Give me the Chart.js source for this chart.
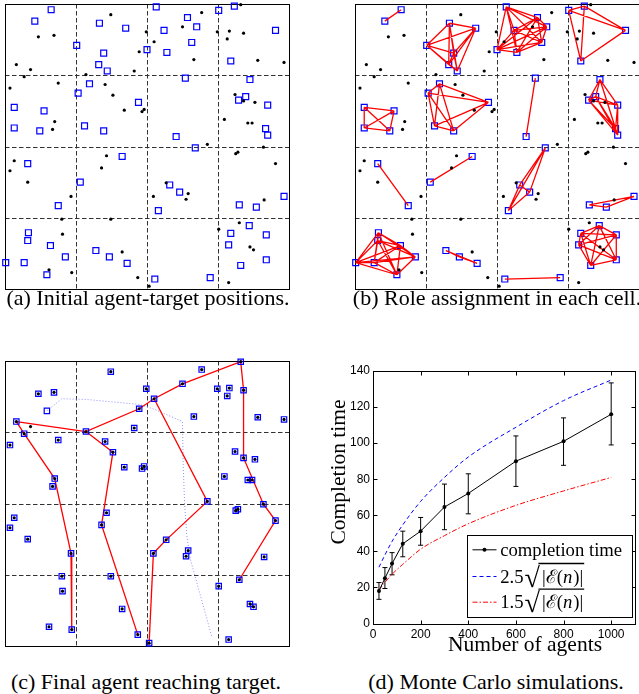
<!DOCTYPE html>
<html>
<head>
<meta charset="utf-8">
<script src="https://cdn.jsdelivr.net/npm/chart.js@4.4.1/dist/chart.umd.min.js"></script>
<style>
  html, body { margin: 0; padding: 0; background: #fff; overflow: hidden; }
  body { width: 639px; height: 694px; position: relative; }
  canvas { position: absolute; }
  .serif { position: absolute; font-family: "Liberation Serif", "Times New Roman", serif; white-space: nowrap; text-align: center; color: #000; }
  .cap { font-size: 22px; line-height: 26px; height: 26px; width: 320px; }
</style>
</head>
<body>
<canvas id="panelA" width="300" height="301" style="left:-3px; top:-4px;"></canvas>
<canvas id="panelB" width="300" height="301" style="left:347px; top:-4px;"></canvas>
<canvas id="panelC" width="300" height="301" style="left:-3px; top:353px;"></canvas>
<canvas id="panelD" width="319" height="300" style="left:320px; top:340px;"></canvas>

<div class="serif cap" style="left:-12px; top:285px;">(a) Initial agent-target positions.</div>
<div class="serif cap" style="left:337px; top:285px;">(b) Role assignment in each cell.</div>
<div class="serif cap" style="left:-14px; top:669px;">(c) Final agent reaching target.</div>
<div class="serif cap" style="left:336px; top:669px;">(d) Monte Carlo simulations.</div>

<div class="serif" style="font-size:21.5px; line-height:26px; height:26px; width:220px; left:228px; top:459px; transform:rotate(-90deg);">Completion time</div>
<div class="serif" style="font-size:21.5px; line-height:26px; height:26px; width:220px; left:415px; top:631px;">Number of agents</div>

<script>
// workspace of 4 x 4 cells, positions in cell units (y grows downward)
const cellLines = [1, 2, 3];

// agents (blue squares)
const agents = [
  [0.65, 0.08], [0.42, 0.24], [1.33, 0.27], [1.70, 0.34], [1.01, 0.58], [1.39, 0.69],
  [1.32, 0.85], [1.44, 0.94], [1.19, 1.12], [1.03, 1.25], [0.13, 1.45], [0.55, 1.50],
  [0.13, 1.74], [0.49, 1.78], [1.12, 1.71], [1.39, 1.78], [1.88, 1.38], [2.13, 0.04],
  [2.57, 0.19], [2.70, 0.32], [2.24, 0.37], [3.01, 0.09], [3.23, 0.03], [2.63, 0.54],
  [2.00, 0.64], [2.28, 0.68], [3.81, 0.37], [3.18, 0.80], [2.54, 1.04], [3.45, 1.06],
  [3.39, 1.30], [3.29, 1.35], [3.70, 1.42], [3.67, 1.75], [3.70, 1.84], [2.41, 1.86],
  [2.68, 2.02], [0.32, 2.24], [1.65, 2.14], [1.06, 2.50], [0.75, 2.83], [2.32, 2.54],
  [2.46, 2.64], [2.16, 2.90], [3.30, 2.82], [3.54, 2.85], [3.93, 2.70], [0.33, 3.21],
  [0.32, 3.32], [0.64, 3.39], [0.85, 3.55], [0.01, 3.63], [0.27, 3.63], [0.59, 3.80],
  [1.28, 3.46], [1.47, 3.55], [1.72, 3.64], [2.11, 3.86], [2.89, 3.84], [3.18, 3.22],
  [3.44, 3.11], [3.68, 3.24], [3.15, 3.38], [3.68, 3.59], [3.32, 3.67]
];

// targets (black dots)
const targets = [
  [1.49, 0.15], [0.47, 0.46], [0.69, 0.44], [0.16, 0.85], [0.36, 0.92], [0.27, 1.02],
  [0.07, 1.18], [0.75, 1.11], [1.14, 0.99], [1.41, 1.13], [1.52, 1.28], [1.82, 0.94],
  [1.89, 0.67], [1.99, 0.39], [2.10, 0.53], [2.50, 0.32], [2.77, 0.12], [2.66, 0.78],
  [2.99, 0.39], [3.16, 0.38], [3.36, 0.41], [3.13, 0.49], [3.32, 0.01], [3.56, 0.79],
  [3.93, 0.82], [1.68, 1.49], [1.93, 1.51], [1.96, 1.48], [0.70, 1.65], [0.67, 1.76],
  [3.24, 1.27], [3.36, 1.36], [3.52, 1.38], [3.09, 1.62], [3.42, 1.67], [3.48, 1.67],
  [2.85, 1.97], [3.64, 2.01], [0.13, 2.20], [0.07, 2.34], [0.32, 2.50], [0.93, 2.70],
  [1.43, 2.13], [1.36, 2.30], [2.27, 2.51], [2.09, 2.70], [2.58, 2.66], [2.55, 2.74],
  [3.25, 2.10], [3.28, 2.08], [3.81, 2.24], [3.65, 2.75], [0.80, 3.02], [1.49, 3.02],
  [0.81, 3.23], [1.65, 3.48], [0.62, 3.73], [0.94, 3.77], [1.87, 3.84], [2.03, 3.96],
  [3.01, 3.16], [3.30, 3.07], [3.45, 3.41], [3.50, 3.45], [3.15, 3.91]
];

// panel (c): target still free, last agent and its track, red routes
const pendingTarget = [0.36, 0.92];
const lastAgent = [0.59, 0.70];
const lastAgentTrack = [
  [0.59, 0.70], [0.80, 0.53], [1.15, 0.54], [1.90, 0.61], [2.11, 0.68], [2.50, 0.85],
  [2.51, 1.47], [2.53, 2.01], [2.56, 2.45], [2.61, 2.78], [2.91, 3.86]
];
const routeA = [[0.16, 0.85], [1.14, 0.99], [1.89, 0.67], [2.10, 0.53], [2.50, 0.32], [3.32, 0.01],
                [3.36, 0.41], [3.36, 1.36], [3.64, 2.01], [3.81, 2.24], [3.30, 3.07]];
const routeB = [[1.14, 0.99], [1.52, 1.28], [1.36, 2.30], [1.87, 3.84]];
const routeC = [[0.16, 0.85], [0.27, 1.02], [0.70, 1.65], [0.93, 2.70], [0.94, 3.77]];
const routeD = [[2.10, 0.53], [2.85, 1.97], [2.27, 2.51], [2.09, 2.70], [2.03, 3.96]];

// panel (d): Monte Carlo
const agentCounts = [25, 50, 80, 125, 200, 300, 400, 600, 800, 1000];
const completionTime = [18, 25.1, 33.2, 44.2, 51.2, 64.6, 72.1, 90, 101, 116];
const errLow = [13.4, 19.4, 27, 37, 43.4, 52, 60.8, 76, 87.7, 99];
const errHigh = [22.7, 31, 39.3, 51.2, 58.8, 77.3, 83, 104, 114, 133.4];
const bound25 = [31.2, 38, 45.5, 54.7, 67.7, 81, 92.3, 108.8, 123.6, 135];
const bound15 = [18.6, 22.8, 27.3, 32.8, 41.2, 48.7, 55.3, 65.5, 73.5, 81];
const xTicks = [0, 200, 400, 600, 800, 1000];
const yTicks = [0, 20, 40, 60, 80, 100, 120, 140];

function pts(list) {
  return list.map(p => ({ x: p[0], y: p[1] }));
}

// complete graph between agents sharing a cell
function cellEdges(list) {
  const cells = {};
  list.forEach(p => {
    const key = Math.min(3, Math.floor(p[0])) + '_' + Math.min(3, Math.floor(p[1]));
    (cells[key] = cells[key] || []).push(p);
  });
  const seg = [];
  Object.values(cells).forEach(g => {
    for (let i = 0; i < g.length; i++)
      for (let j = i + 1; j < g.length; j++)
        seg.push({ x: g[i][0], y: g[i][1] }, { x: g[j][0], y: g[j][1] }, { x: g[j][0], y: null });
  });
  return seg;
}

const cellGrid = {
  id: 'cellGrid',
  beforeDatasetsDraw(chart) {
    const { ctx, chartArea: a, scales: { x, y } } = chart;
    ctx.save();
    ctx.lineWidth = 1;
    ctx.strokeStyle = '#333';
    ctx.setLineDash([4.5, 2.5]);
    cellLines.forEach(v => {
      const px = Math.round(x.getPixelForValue(v)) + 0.5;
      ctx.beginPath(); ctx.moveTo(px, a.top); ctx.lineTo(px, a.bottom); ctx.stroke();
      const py = Math.round(y.getPixelForValue(v)) + 0.5;
      ctx.beginPath(); ctx.moveTo(a.left, py); ctx.lineTo(a.right, py); ctx.stroke();
    });
    ctx.setLineDash([]);
    ctx.strokeStyle = '#000';
    ctx.strokeRect(Math.round(a.left) + 0.5, Math.round(a.top) + 0.5, Math.round(a.width), Math.round(a.height));
    ctx.restore();
  }
};

const dotSet = (list) => ({ data: pts(list), pointStyle: 'circle', pointRadius: 1.6, pointBackgroundColor: '#000', pointBorderWidth: 0, clip: false });
const squareSet = (list, r) => ({ data: pts(list), pointStyle: 'rect', pointRadius: r, pointBorderColor: '#0000ff', pointBackgroundColor: 'rgba(0,0,0,0)', pointBorderWidth: 1.2, clip: false });
const lineSet = (data, color, width, dash) => ({ data, showLine: true, borderColor: color, borderWidth: width, borderDash: dash || [], pointRadius: 0, clip: false });

function cellPanel(id, datasets) {
  new Chart(document.getElementById(id), {
    type: 'scatter',
    data: { datasets },
    options: {
      responsive: false,
      animation: false,
      events: [],
      layout: { padding: 8 },
      scales: {
        x: { display: false, min: 0, max: 4 },
        y: { display: false, min: 0, max: 4, reverse: true }
      },
      plugins: { legend: { display: false }, tooltip: { enabled: false } }
    },
    plugins: [cellGrid]
  });
}

cellPanel('panelA', [dotSet(targets), squareSet(agents, 4.2)]);

cellPanel('panelB', [dotSet(targets), lineSet(cellEdges(agents), '#ff0000', 1.3), squareSet(agents, 4.2)]);

const reached = targets.filter(p => !(p[0] === pendingTarget[0] && p[1] === pendingTarget[1]));
cellPanel('panelC', [
  dotSet(targets),
  squareSet(reached, 3.8),
  squareSet([lastAgent], 3.8),
  lineSet(pts(routeA), '#ff0000', 1.3),
  lineSet(pts(routeB), '#ff0000', 1.3),
  lineSet(pts(routeC), '#ff0000', 1.3),
  lineSet(pts(routeD), '#ff0000', 1.3),
  lineSet(pts(lastAgentTrack), '#8f8fff', 1, [1, 2])
]);

// error bars, inward ticks and box
const mcFrame = {
  id: 'mcFrame',
  beforeDatasetsDraw(chart) {
    const { ctx, scales: { x, y } } = chart;
    ctx.save();
    ctx.strokeStyle = '#000';
    ctx.lineWidth = 1;
    agentCounts.forEach((n, i) => {
      const px = x.getPixelForValue(n), lo = y.getPixelForValue(errLow[i]), hi = y.getPixelForValue(errHigh[i]);
      ctx.beginPath();
      ctx.moveTo(px, lo); ctx.lineTo(px, hi);
      ctx.moveTo(px - 2.5, lo); ctx.lineTo(px + 2.5, lo);
      ctx.moveTo(px - 2.5, hi); ctx.lineTo(px + 2.5, hi);
      ctx.stroke();
    });
    ctx.restore();
  },
  afterDraw(chart) {
    const { ctx, chartArea: a, scales: { x, y } } = chart;
    ctx.save();
    ctx.strokeStyle = '#000';
    ctx.lineWidth = 1;
    const L = Math.round(a.left) + 0.5, R = Math.round(a.right) + 0.5;
    const T = Math.round(a.top) + 0.5, B = Math.round(a.bottom) + 0.5;
    ctx.strokeRect(L, T, R - L, B - T);
    ctx.beginPath();
    xTicks.forEach(v => {
      const px = Math.round(x.getPixelForValue(v)) + 0.5;
      ctx.moveTo(px, B); ctx.lineTo(px, B - 4);
      ctx.moveTo(px, T); ctx.lineTo(px, T + 4);
    });
    yTicks.forEach(v => {
      const py = Math.round(y.getPixelForValue(v)) + 0.5;
      ctx.moveTo(L, py); ctx.lineTo(L + 4, py);
      ctx.moveTo(R, py); ctx.lineTo(R - 4, py);
    });
    ctx.stroke();

    // legend
    const w = 165, h = 82;
    const left = Math.round(a.right - 3 - w) + 0.5, top = Math.round(a.bottom - 6.5 - h) + 0.5;
    ctx.fillStyle = '#fff';
    ctx.fillRect(left, top, w, h);
    ctx.strokeRect(left, top, w, h);
    const rows = [top + 14.3, top + 41, top + 66.7];
    const sx0 = left + 5, sx1 = left + 29, tx = left + 32.7;
    ctx.beginPath(); ctx.moveTo(sx0, rows[0]); ctx.lineTo(sx1, rows[0]); ctx.stroke();
    ctx.fillStyle = '#000';
    ctx.beginPath(); ctx.arc((sx0 + sx1) / 2, rows[0], 2, 0, Math.PI * 2); ctx.fill();
    ctx.strokeStyle = '#0000ff'; ctx.setLineDash([4, 3]);
    ctx.beginPath(); ctx.moveTo(sx0, rows[1]); ctx.lineTo(sx1, rows[1]); ctx.stroke();
    ctx.strokeStyle = '#ff0000'; ctx.setLineDash([5, 2, 1.5, 2]);
    ctx.beginPath(); ctx.moveTo(sx0, rows[2]); ctx.lineTo(sx1, rows[2]); ctx.stroke();
    ctx.setLineDash([]);
    ctx.strokeStyle = '#000';

    const serif = '"Liberation Serif", "DejaVu Serif", serif';
    ctx.fillStyle = '#000';
    ctx.textBaseline = 'alphabetic';
    ctx.font = '18.7px ' + serif;
    ctx.fillText('completion time', tx, rows[0] + 6);
    ['2.5', '1.5'].forEach((k, i) => {
      const base = rows[i + 1] + 6;
      ctx.font = '18.7px ' + serif;
      ctx.fillText(k, tx, base);
      let cx = tx + ctx.measureText(k).width + 1;
      ctx.font = '28px ' + serif;
      ctx.fillText('\u221A', cx, base + 4);
      cx += ctx.measureText('\u221A').width;
      const barStart = cx - 1.5;
      ctx.font = '18.7px ' + serif;
      ctx.fillText('|\u2130(', cx + 2, base);
      cx += 2 + ctx.measureText('|\u2130(').width;
      ctx.font = 'italic 18.7px ' + serif;
      ctx.fillText('n', cx, base);
      cx += ctx.measureText('n').width + 1;
      ctx.font = '18.7px ' + serif;
      ctx.fillText(')|', cx, base);
      cx += ctx.measureText(')|').width;
      ctx.lineWidth = 1.3;
      ctx.beginPath(); ctx.moveTo(barStart, rows[i + 1] - 13); ctx.lineTo(cx + 1, rows[i + 1] - 13); ctx.stroke();
      ctx.lineWidth = 1;
    });
    ctx.restore();
  }
};

const tickFont = { family: '"Liberation Sans", Arial, sans-serif', size: 12 };
new Chart(document.getElementById('panelD'), {
  type: 'scatter',
  data: {
    datasets: [
      { data: agentCounts.map((n, i) => ({ x: n, y: completionTime[i] })), showLine: true,
        borderColor: '#000', borderWidth: 1, pointRadius: 2, pointBackgroundColor: '#000', pointBorderWidth: 0 },
      { data: agentCounts.map((n, i) => ({ x: n, y: bound25[i] })), showLine: true, cubicInterpolationMode: 'monotone',
        borderColor: '#0000ff', borderWidth: 1, borderDash: [4, 3], pointRadius: 0 },
      { data: agentCounts.map((n, i) => ({ x: n, y: bound15[i] })), showLine: true, cubicInterpolationMode: 'monotone',
        borderColor: '#ff0000', borderWidth: 1, borderDash: [5, 2, 1.5, 2], pointRadius: 0 }
    ]
  },
  options: {
    responsive: false,
    animation: false,
    events: [],
    layout: { padding: { top: 31, right: 2, left: 0, bottom: 0 } },
    scales: {
      x: {
        min: 0, max: 1100,
        afterBuildTicks: s => { s.ticks = xTicks.map(v => ({ value: v })); },
        afterFit: s => { s.height = 16.5; },
        grid: { display: false, drawTicks: false },
        border: { display: false },
        ticks: { font: tickFont, color: '#000', padding: 4, maxRotation: 0, callback: v => String(v) }
      },
      y: {
        min: 0, max: 140,
        afterBuildTicks: s => { s.ticks = yTicks.map(v => ({ value: v })); },
        afterFit: s => { s.width = 53; },
        grid: { display: false, drawTicks: false },
        border: { display: false },
        ticks: { font: tickFont, color: '#000', padding: 3, callback: v => String(v) }
      }
    },
    plugins: { legend: { display: false }, tooltip: { enabled: false } }
  },
  plugins: [mcFrame]
});
</script>
</body>
</html>
